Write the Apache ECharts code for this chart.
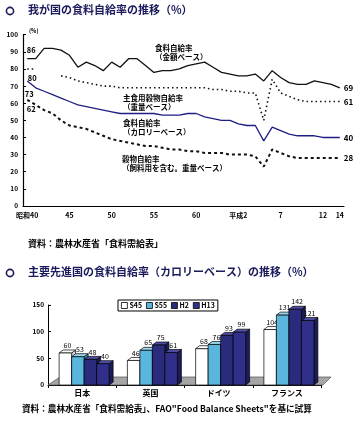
<!DOCTYPE html>
<html><head><meta charset="utf-8">
<script src="https://cdn.jsdelivr.net/npm/echarts@6/dist/echarts.min.js"></script>
<style>html,body{margin:0;padding:0;background:#fff}#c{width:361px;height:433px}</style>
</head><body><div id="c"></div>
<script>
// ---- top chart data ----
const years = ['昭和40','昭和41','昭和42','昭和43','昭和44','昭和45','昭和46','昭和47','昭和48','昭和49',
  '昭和50','昭和51','昭和52','昭和53','昭和54','昭和55','昭和56','昭和57','昭和58','昭和59',
  '昭和60','昭和61','昭和62','昭和63','平成元','平成2','平成3','平成4','平成5','平成6',
  '平成7','平成8','平成9','平成10','平成11','平成12','平成13','平成14'];
const yearTickLabels = {'昭和40':'昭和40','昭和45':'45','昭和50':'50','昭和55':'55','昭和60':'60',
  '平成2':'平成2','平成7':'7','平成12':'12','平成14':'14'};
const valueBased = [86,86,92,92,91,88,81,84,82,79,84,81,86,86,82,78,79,79,80,82,83,84,81,78,77,76,76,77,73,79,75,72,71,71,73,72,71,69];
const stapleGrain = [80,80,null,null,76,75,73,72,71,70,70,69,69,69,69,69,69,69,69,69,69,69,68,68,67,67,66,66,50,74,66,64,62,61,61,61,61,61];
const calorieBased = [73,69,67,65,63,61,59,58,57,56,55,54,54,54,54,54,53,53,53,54,54,52,51,50,50,48,47,47,38,46,44,42,41,41,41,40,40,40];
const grainTotal = [62,59,56,54,50,47,46,45,43,41,39,38,37,36,35,35,34,33,33,32,32,31,31,31,30,30,30,29,23,33,31,29,28,28,28,28,28,28];

// ---- bottom chart data ----
const countries = ['日本','英国','ドイツ','フランス'];
const periods = ['S45','S55','H2','H13'];
const barS45 = [60,46,68,104];
const barS55 = [53,65,76,131];
const barH2  = [48,75,93,142];
const barH13 = [40,61,99,121];
const barSets = [barS45, barS55, barH2, barH13];

const FONT = '"Noto Sans CJK JP", sans-serif';
const NAVY = '#1a1a5c';
const faces = [
  {front:'#ffffff', top:'#ffffff', side:'#d8d8d8'},
  {front:'#5ab6dd', top:'#9ad6f0', side:'#3a8fb5'},
  {front:'#2b2b7d', top:'#4c4ca6', side:'#1a1a55'},
  {front:'#30308a', top:'#5050aa', side:'#1c1c5c'}
];

const chart = echarts.init(document.getElementById('c'), null, {renderer:'canvas'});

function firstLabel(pos, off) {
  return {show:true, position:pos, offset:off, fontSize:7.5, fontWeight:'bold', fontFamily:FONT, color:'#000',
    formatter: p => p.dataIndex === 0 ? String(p.value) : ''};
}
function lineSeries(name, data, color, width, type, pos, off) {
  return {
    name, type:'line', xAxisIndex:0, yAxisIndex:0, data,
    showSymbol:true, showAllSymbol:true, symbol:'circle', symbolSize:0.1,
    itemStyle:{color}, lineStyle:{color, width, type},
    connectNulls:false, silent:true, animation:false,
    label: firstLabel(pos, off),
    endLabel:{show:true, formatter:'{c}', fontSize:8, fontWeight:'bold', fontFamily:FONT, color:'#000', distance:4}
  };
}

function bar3D(k) {
  return function(params, api) {
    const cat = api.value(0), v = api.value(1);
    const p = api.coord([cat, v]);
    const p0 = api.coord([cat, 0]);
    const bw = 12.5, dx = 4, dy = 3;
    const xl = p[0] - 2*bw + 2 + k*bw, xr = xl + bw;
    const yt = p[1], yb = p0[1];
    const f = faces[k];
    const st = {stroke:'#000', lineWidth:0.7};
    return {type:'group', children:[
      {type:'polygon', shape:{points:[[xr,yt],[xr+dx,yt-dy],[xr+dx,yb-dy],[xr,yb]]}, style:Object.assign({fill:f.side}, st)},
      {type:'polygon', shape:{points:[[xl,yt],[xl+dx,yt-dy],[xr+dx,yt-dy],[xr,yt]]}, style:Object.assign({fill:f.top}, st)},
      {type:'rect', shape:{x:xl, y:yt, width:bw, height:yb-yt}, style:Object.assign({fill:f.front}, st)},
      {type:'text', style:{text:String(v), x:(xl+xr)/2 + dx/2, y:yt-dy-1, align:'center', verticalAlign:'bottom',
        fontSize:7, fontFamily:FONT, fill:'#000'}}
    ]};
  };
}

function floorItem(params, api) {
  const cs = params.coordSys;
  const yb = cs.y + cs.height, x0 = cs.x, x1 = cs.x + cs.width;
  return {type:'polygon', shape:{points:[[x0,yb],[x0+12,yb-8],[x1+10,yb-8],[x1+2,yb]]},
    style:{fill:'#a6a6a6', stroke:'#555', lineWidth:0.7}};
}

const barSeries = barSets.map((arr, k) => ({
  name: periods[k], type:'custom', xAxisIndex:1, yAxisIndex:1, silent:true, animation:false,
  itemStyle:{color:faces[k].front, borderColor:'#000', borderWidth:0.8},
  renderItem: bar3D(k), z:3,
  data: arr.map((v, i) => [i, v])
}));

const txt = (x, y, text, size, extra) => Object.assign({type:'text', left:x, top:y,
  style:{text, fontSize:size, fontFamily:FONT, fontWeight:'bold', fill:'#000', lineHeight:size+2}}, extra||{});

const option = {
  animation:false,
  textStyle:{fontFamily:FONT},
  grid:[
    {left:23, right:17, top:34.7, bottom:227, containLabel:false},
    {left:48, right:40, top:305, bottom:48, containLabel:false}
  ],
  xAxis:[
    {type:'category', gridIndex:0, data:years, boundaryGap:true,
      axisLine:{lineStyle:{color:'#000', width:1.2}},
      axisTick:{inside:true, length:3, interval:0, alignWithLabel:true, lineStyle:{color:'#000'}},
      axisLabel:{interval:(i, v) => v in yearTickLabels, formatter:v => yearTickLabels[v] || '',
        fontSize:7, fontWeight:'bold', color:'#000', margin:6, fontFamily:FONT}},
    {type:'category', gridIndex:1, data:countries,
      axisLine:{lineStyle:{color:'#000', width:1}},
      axisTick:{show:true, length:3, lineStyle:{color:'#000'}},
      axisLabel:{fontSize:8, fontWeight:'bold', color:'#000', margin:4, fontFamily:FONT}}
  ],
  yAxis:[
    {type:'value', gridIndex:0, min:0, max:100, interval:10,
      axisLine:{show:true, lineStyle:{color:'#000', width:1.2}},
      axisTick:{show:true, inside:true, length:3, lineStyle:{color:'#000'}},
      splitLine:{show:false},
      axisLabel:{fontSize:6.5, fontWeight:'bold', color:'#000', margin:5, fontFamily:FONT}},
    {type:'value', gridIndex:1, min:0, max:150, interval:50,
      axisLine:{show:true, lineStyle:{color:'#000', width:1}},
      axisTick:{show:true, inside:true, length:3, lineStyle:{color:'#000'}},
      splitLine:{show:false},
      axisLabel:{fontSize:6.5, fontWeight:'bold', color:'#000', margin:4, fontFamily:FONT}}
  ],
  legend:{data:periods, left:118, top:300, orient:'horizontal', icon:'rect', itemWidth:6, itemHeight:6, itemGap:4,
    padding:[2,3], backgroundColor:'#fff', borderColor:'#000', borderWidth:1, selectedMode:false,
    itemStyle:{borderColor:'#000', borderWidth:0.8},
    textStyle:{fontSize:7, fontWeight:'bold', color:'#000', fontFamily:FONT, padding:[0,0,0,-3]}},
  series:[
    lineSeries('金額ベース', valueBased, '#111', 1.3, 'solid', 'top', [4,0]),
    lineSeries('主食用穀物自給率', stapleGrain, '#111', 1.6, [1.5,3], 'bottom', [5,0]),
    lineSeries('カロリーベース', calorieBased, '#1e1e82', 1.3, 'solid', 'bottom', [2,4]),
    lineSeries('穀物自給率', grainTotal, '#111', 2, [3,3], 'bottom', [4,1]),
    {type:'custom', xAxisIndex:1, yAxisIndex:1, data:[[0,0]], renderItem:floorItem, silent:true, z:1, animation:false},
    ...barSeries
  ],
  graphic:[
    {type:'circle', shape:{cx:10, cy:11, r:3.6}, style:{fill:'none', stroke:NAVY, lineWidth:1.6}},
    txt(28, 4, '我が国の食料自給率の推移（%）', 11, {style:{text:'我が国の食料自給率の推移（%）', fontSize:11, fontFamily:FONT, fontWeight:'bold', fill:NAVY}}),
    txt(29, 27, '(%)', 5.5),
    txt(155, 43, '食料自給率\n（金額ベース）', 7.5),
    txt(123, 93, '主食用穀物自給率\n（重量ベース）', 7.5),
    txt(123, 118, '食料自給率\n（カロリーベース）', 7.5),
    txt(122, 154, '穀物自給率\n（飼料用を含む。重量ベース）', 7.5),
    txt(28, 238, '資料：農林水産省「食料需給表」', 9),
    {type:'circle', shape:{cx:10, cy:273, r:3.6}, style:{fill:'none', stroke:NAVY, lineWidth:1.6}},
    {type:'text', left:28, top:266, style:{text:'主要先進国の食料自給率（カロリーベース）の推移（%）', fontSize:11, fontFamily:FONT, fontWeight:'bold', fill:NAVY}},
    txt(22, 403, '資料：農林水産省「食料需給表」、FAO"Food Balance Sheets"を基に試算', 8.6)
  ]
};
chart.setOption(option);
</script></body></html>
